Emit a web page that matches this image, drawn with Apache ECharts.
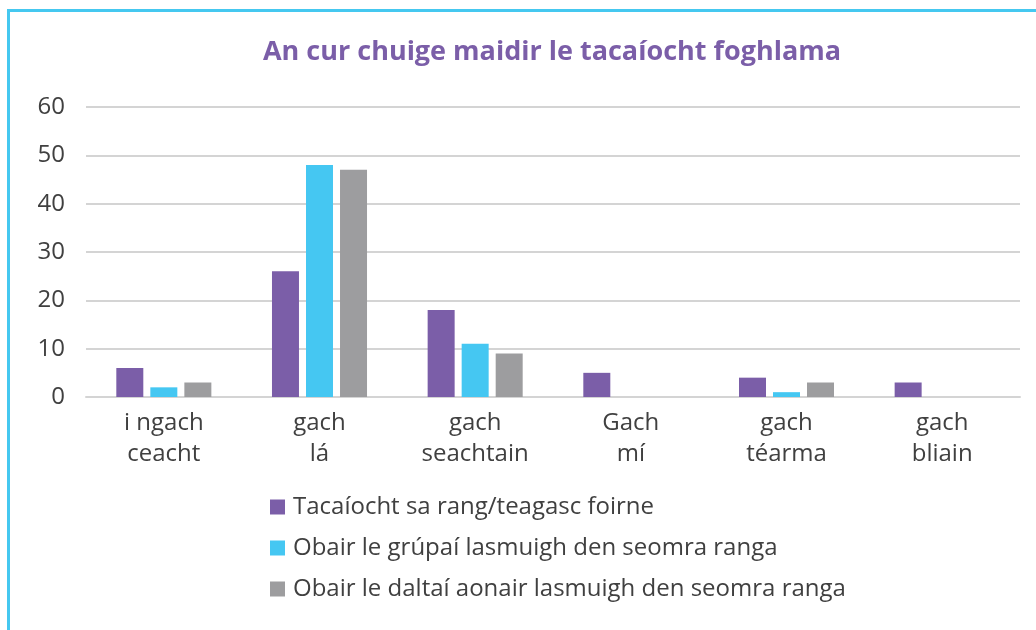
<!DOCTYPE html>
<html>
<head>
<meta charset="utf-8">
<script src="https://cdn.jsdelivr.net/npm/echarts@6/dist/echarts.min.js"></script>
<style>
  html, body { margin: 0; padding: 0; background: #fff; }
  #grafico { width: 1036px; height: 630px; }
</style>
</head>
<body>
<div id="grafico"></div>
<script>
// categorias (duas linhas cada)
const categorias = ['i ngach\nceacht', 'gach\nlá', 'gach\nseachtain', 'Gach\nmí', 'gach\ntéarma', 'gach\nbliain'];
const nomesSeries = [
  'Tacaíocht sa rang/teagasc foirne',
  'Obair le grúpaí lasmuigh den seomra ranga',
  'Obair le daltaí aonair lasmuigh den seomra ranga'
];
const tacaiocht = [6, 26, 18, 5, 4, 3];
const grupai = [2, 48, 11, 0, 1, 0];
const daltai = [3, 47, 9, 0, 3, 0];
const cores = ['#7b5ea8', '#45c7f2', '#9d9d9f'];

const chart = echarts.init(document.getElementById('grafico'));
const fonte = '"Open Sans", sans-serif';

const option = {
  backgroundColor: '#ffffff',
  animation: false,
  title: {
    text: 'An cur chuige maidir le tacaíocht foghlama',
    left: 547,
    textAlign: 'center',
    top: 34,
    textStyle: { color: '#7b5ea8', fontSize: 27, fontWeight: 'bold', fontFamily: fonte }
  },
  graphic: [{
    type: 'rect',
    shape: { x: 8.5, y: 10.5, width: 1200, height: 800 },
    style: { fill: 'none', stroke: '#45c8f0', lineWidth: 3 }
  }],
  legend: {
    orient: 'vertical',
    left: 265,
    top: 490,
    itemWidth: 15,
    itemHeight: 15,
    itemGap: 17,
    icon: 'rect',
    textStyle: { color: '#404040', fontSize: 24, fontFamily: fonte, padding: [0, 0, 0, 3] },
    data: nomesSeries
  },
  grid: { left: 86, right: 16, top: 107, bottom: 233, containLabel: false },
  xAxis: {
    type: 'category',
    data: categorias,
    axisLine: { lineStyle: { color: '#d4d4d4', width: 2 } },
    axisTick: { show: false },
    axisLabel: { color: '#404040', fontSize: 24, fontFamily: fonte, lineHeight: 31, margin: 11, interval: 0 }
  },
  yAxis: {
    type: 'value',
    min: 0,
    max: 60,
    interval: 10,
    axisLine: { show: false },
    axisTick: { show: false },
    axisLabel: { color: '#404040', fontSize: 24, fontFamily: fonte, margin: 21 },
    splitLine: { lineStyle: { color: '#d4d4d4', width: 2 } }
  },
  series: [
    { name: nomesSeries[0], type: 'bar', data: tacaiocht, itemStyle: { color: cores[0] }, barWidth: 27, barGap: '26%' },
    { name: nomesSeries[1], type: 'bar', data: grupai, itemStyle: { color: cores[1] }, barWidth: 27, barGap: '26%' },
    { name: nomesSeries[2], type: 'bar', data: daltai, itemStyle: { color: cores[2] }, barWidth: 27, barGap: '26%' }
  ]
};

chart.setOption(option);
</script>
</body>
</html>
